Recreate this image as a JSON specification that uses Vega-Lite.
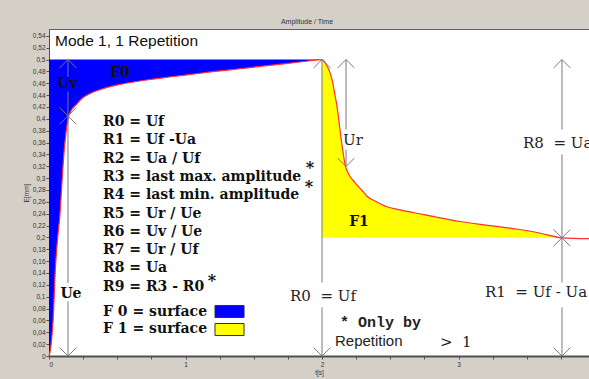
{
  "$schema": "https://vega.github.io/schema/vega-lite/v6.json",
  "autosize": "none",
  "width": 540,
  "height": 327,
  "padding": {"left": 49, "top": 29, "right": 0, "bottom": 23},
  "background": "#d4d0c8",
  "title": {"text": "Amplitude / Time", "fontSize": 7, "font": "Liberation Sans", "fontWeight": "normal", "color": "#333333", "anchor": "middle", "dx": -12, "offset": 4},
  "config": {
    "view": {"fill": "white", "stroke": "#606060", "strokeWidth": 1},
    "axis": {"grid": false, "domainColor": "#505050", "tickColor": "#505050", "labelColor": "#333333", "labelFont": "Liberation Sans", "labelFontSize": 6.5, "titleFont": "Liberation Sans", "titleFontSize": 6.5, "titleFontWeight": "normal", "titleColor": "#333333", "tickSize": 3, "labelOverlap": false}
  },
  "datasets": {
    "curve": [
      {"seg": "F0", "t": 0, "v": 0},
      {"seg": "F0", "t": 0.01, "v": 0.01},
      {"seg": "F0", "t": 0.02, "v": 0.03},
      {"seg": "F0", "t": 0.03, "v": 0.06},
      {"seg": "F0", "t": 0.038, "v": 0.1},
      {"seg": "F0", "t": 0.045, "v": 0.14},
      {"seg": "F0", "t": 0.055, "v": 0.175},
      {"seg": "F0", "t": 0.068, "v": 0.21},
      {"seg": "F0", "t": 0.08, "v": 0.237},
      {"seg": "F0", "t": 0.093, "v": 0.285},
      {"seg": "F0", "t": 0.11, "v": 0.343},
      {"seg": "F0", "t": 0.125, "v": 0.377},
      {"seg": "F0", "t": 0.14, "v": 0.4},
      {"seg": "F0", "t": 0.16, "v": 0.413},
      {"seg": "F0", "t": 0.2, "v": 0.424},
      {"seg": "F0", "t": 0.25, "v": 0.436},
      {"seg": "F0", "t": 0.3, "v": 0.4425},
      {"seg": "F0", "t": 0.34, "v": 0.4465},
      {"seg": "F0", "t": 0.42, "v": 0.4525},
      {"seg": "F0", "t": 0.52, "v": 0.458},
      {"seg": "F0", "t": 0.63, "v": 0.4625},
      {"seg": "F0", "t": 0.74, "v": 0.4663},
      {"seg": "F0", "t": 0.88, "v": 0.4705},
      {"seg": "F0", "t": 1.03, "v": 0.4747},
      {"seg": "F0", "t": 1.2, "v": 0.4795},
      {"seg": "F0", "t": 1.4, "v": 0.4845},
      {"seg": "F0", "t": 1.55, "v": 0.4885},
      {"seg": "F0", "t": 1.75, "v": 0.4935},
      {"seg": "F0", "t": 1.9, "v": 0.4975},
      {"seg": "F0", "t": 2.0, "v": 0.5},
      {"seg": "F1", "t": 2.0, "v": 0.5},
      {"seg": "F1", "t": 2.015, "v": 0.497},
      {"seg": "F1", "t": 2.035, "v": 0.49},
      {"seg": "F1", "t": 2.055, "v": 0.48},
      {"seg": "F1", "t": 2.075, "v": 0.465},
      {"seg": "F1", "t": 2.095, "v": 0.44},
      {"seg": "F1", "t": 2.11, "v": 0.421},
      {"seg": "F1", "t": 2.13, "v": 0.385},
      {"seg": "F1", "t": 2.15, "v": 0.35},
      {"seg": "F1", "t": 2.17, "v": 0.322},
      {"seg": "F1", "t": 2.2, "v": 0.305},
      {"seg": "F1", "t": 2.24, "v": 0.293},
      {"seg": "F1", "t": 2.29, "v": 0.28},
      {"seg": "F1", "t": 2.33, "v": 0.2695},
      {"seg": "F1", "t": 2.4, "v": 0.26},
      {"seg": "F1", "t": 2.47, "v": 0.2521},
      {"seg": "F1", "t": 2.57, "v": 0.2465},
      {"seg": "F1", "t": 2.67, "v": 0.242},
      {"seg": "F1", "t": 2.84, "v": 0.234},
      {"seg": "F1", "t": 3.01, "v": 0.2268},
      {"seg": "F1", "t": 3.23, "v": 0.22},
      {"seg": "F1", "t": 3.45, "v": 0.2133},
      {"seg": "F1", "t": 3.6, "v": 0.207},
      {"seg": "F1", "t": 3.758, "v": 0.1993},
      {"seg": "tail", "t": 3.956, "v": 0.198}
    ],
    "rules": [
      {"t": 0.139, "v1": 0.5, "v2": 0.469},
      {"t": 0.139, "v1": 0.446, "v2": 0.405},
      {"t": 0.139, "v1": 0.405, "v2": 0.123},
      {"t": 0.139, "v1": 0.092, "v2": 0},
      {"t": 2.0, "v1": 0.5, "v2": 0.124},
      {"t": 2.0, "v1": 0.082, "v2": 0},
      {"t": 2.176, "v1": 0.5, "v2": 0.382},
      {"t": 2.176, "v1": 0.348, "v2": 0.3196},
      {"t": 3.758, "v1": 0.5, "v2": 0.382},
      {"t": 3.758, "v1": 0.34, "v2": 0.1993},
      {"t": 3.758, "v1": 0.1993, "v2": 0.124},
      {"t": 3.758, "v1": 0.082, "v2": 0}
    ],
    "arrows": [
      {"t": 0.139, "v": 0.5, "dir": "up"},
      {"t": 2.0, "v": 0.5, "dir": "up"},
      {"t": 2.176, "v": 0.5, "dir": "up"},
      {"t": 3.758, "v": 0.5, "dir": "up"},
      {"t": 0.139, "v": 0.405, "dir": "up"},
      {"t": 3.758, "v": 0.1993, "dir": "up"},
      {"t": 0.139, "v": 0.405, "dir": "down"},
      {"t": 0.139, "v": 0, "dir": "down"},
      {"t": 2.0, "v": 0, "dir": "down"},
      {"t": 2.176, "v": 0.3196, "dir": "down"},
      {"t": 3.758, "v": 0.1993, "dir": "down"},
      {"t": 3.758, "v": 0, "dir": "down"}
    ],
    "swatches": [
      {"seg": "F0", "t0": 1.216, "t1": 1.429, "v0": 0.0649, "v1": 0.0852},
      {"seg": "F1", "t0": 1.216, "t1": 1.429, "v0": 0.0346, "v1": 0.0548}
    ],
    "list": [
      {"label": "R0 = Uf", "t": 0.396, "v": 0.3946},
      {"label": "R1 = Uf -Ua", "t": 0.396, "v": 0.3637},
      {"label": "R2 = Ua / Uf", "t": 0.396, "v": 0.3329},
      {"label": "R3 = last max. amplitude", "t": 0.396, "v": 0.302},
      {"label": "R4 = last min. amplitude", "t": 0.396, "v": 0.2712},
      {"label": "R5 = Ur / Ue", "t": 0.396, "v": 0.2403},
      {"label": "R6 = Uv / Ue", "t": 0.396, "v": 0.2094},
      {"label": "R7 = Ur / Uf", "t": 0.396, "v": 0.1786},
      {"label": "R8 = Ua", "t": 0.396, "v": 0.1477},
      {"label": "R9 = R3 - R0", "t": 0.396, "v": 0.1169},
      {"label": "F 0 = surface", "t": 0.396, "v": 0.075},
      {"label": "F 1 = surface", "t": 0.396, "v": 0.0447}
    ],
    "tags": [
      {"label": "F0", "t": 0.52, "v": 0.478},
      {"label": "F1", "t": 2.271, "v": 0.2268},
      {"label": "Uv", "t": 0.1355, "v": 0.4579},
      {"label": "Ue", "t": 0.161, "v": 0.104}
    ],
    "stars": [
      {"label": "*", "t": 1.912, "v": 0.3179},
      {"label": "*", "t": 1.905, "v": 0.2858},
      {"label": "*", "t": 1.194, "v": 0.1273}
    ],
    "dims": [
      {"label": "Ur", "t": 2.154, "v": 0.365},
      {"label": "R8\u00a0\u00a0=\u00a0Ua", "t": 3.473, "v": 0.3592},
      {"label": "R1\u00a0\u00a0=\u00a0Uf\u00a0-\u00a0Ua", "t": 3.194, "v": 0.1071},
      {"label": "R0\u00a0\u00a0=\u00a0Uf", "t": 1.766, "v": 0.102},
      {"label": ">\u00a0\u00a01", "t": 2.864, "v": 0.0235}
    ]
  },
  "encoding": {
    "x": {"field": "t", "type": "quantitative", "scale": {"domain": [0, 3.956], "nice": false, "zero": false},
      "axis": {"title": "t[s]", "values": [0, 0.25, 0.5, 0.75, 1, 1.25, 1.5, 1.75, 2, 2.25, 2.5, 2.75, 3, 3.25, 3.5, 3.75], "labelExpr": "datum.value % 1 === 0 ? format(datum.value, 'd') : ''", "labelPadding": 2, "titlePadding": 2, "domainWidth": 2}},
    "y": {"field": "v", "type": "quantitative", "scale": {"domain": [0, 0.5515], "nice": false, "zero": false},
      "axis": {"title": "E[mm]", "values": [0, 0.02, 0.04, 0.06, 0.08, 0.1, 0.12, 0.14, 0.16, 0.18, 0.2, 0.22, 0.24, 0.26, 0.28, 0.3, 0.32, 0.34, 0.36, 0.38, 0.4, 0.42, 0.44, 0.46, 0.48, 0.5, 0.52, 0.54], "labelExpr": "replace(format(datum.value, '.2~f'), '.', ',')", "labelPadding": 1, "titlePadding": 3}}
  },
  "layer": [
    {
      "mark": {"type": "rect", "fill": "#c0c0c0", "stroke": "#707070", "strokeWidth": 1},
      "encoding": {"x": {"datum": 0}, "x2": {"datum": 3.956}, "y": {"datum": 0.5}, "y2": {"datum": 0.5515}}
    },
    {
      "data": {"name": "curve"},
      "transform": [{"filter": "datum.seg === 'F0'"}],
      "mark": {"type": "area", "interpolate": "monotone"},
      "encoding": {"y2": {"datum": 0.5}, "color": {"field": "seg", "type": "nominal", "scale": {"domain": ["F0", "F1"], "range": ["#0000ff", "#ffff00"]}, "legend": null}}
    },
    {
      "data": {"name": "curve"},
      "transform": [{"filter": "datum.seg === 'F1'"}],
      "mark": {"type": "area", "interpolate": "monotone"},
      "encoding": {"y2": {"datum": 0.1993}, "color": {"field": "seg", "type": "nominal", "scale": {"domain": ["F0", "F1"], "range": ["#0000ff", "#ffff00"]}, "legend": null}}
    },
    {
      "mark": {"type": "rule", "color": "#707000", "strokeWidth": 1.2},
      "encoding": {"x": {"datum": 2.0}, "x2": {"datum": 3.758}, "y": {"datum": 0.1993}}
    },
    {
      "mark": {"type": "rule", "color": "#606060", "strokeWidth": 1},
      "encoding": {"y": {"datum": 0.5}}
    },
    {
      "data": {"name": "curve"},
      "mark": {"type": "line", "interpolate": "monotone", "color": "#ff3030", "strokeWidth": 1.2},
      "encoding": {}
    },
    {
      "data": {"name": "rules"},
      "mark": {"type": "rule", "color": "#7a7a7a", "strokeWidth": 1},
      "encoding": {"y": {"field": "v1", "type": "quantitative"}, "y2": {"field": "v2"}}
    },
    {
      "data": {"name": "arrows"},
      "mark": {"type": "point", "filled": false, "stroke": "#7a7a7a", "strokeWidth": 1, "size": 280, "opacity": 1},
      "encoding": {"shape": {"field": "dir", "type": "nominal", "scale": {"domain": ["up", "down"], "range": ["M-1,1L0,0L1,1", "M-1,-1L0,0L1,-1"]}, "legend": null}}
    },
    {
      "data": {"name": "swatches"},
      "mark": {"type": "rect", "stroke": "#333333", "strokeWidth": 1},
      "encoding": {"x": {"field": "t0", "type": "quantitative"}, "x2": {"field": "t1"}, "y": {"field": "v0", "type": "quantitative"}, "y2": {"field": "v1"},
        "color": {"field": "seg", "type": "nominal", "scale": {"domain": ["F0", "F1"], "range": ["#0000ff", "#ffff00"]}, "legend": null}}
    },
    {
      "data": {"name": "list"},
      "mark": {"type": "text", "font": "DejaVu Serif", "fontWeight": "bold", "fontSize": 14, "align": "left", "baseline": "middle", "color": "#111111"},
      "encoding": {"text": {"field": "label"}}
    },
    {
      "data": {"name": "tags"},
      "mark": {"type": "text", "font": "DejaVu Serif", "fontWeight": "bold", "fontSize": 14, "align": "center", "baseline": "middle", "color": "#111111"},
      "encoding": {"text": {"field": "label"}}
    },
    {
      "data": {"name": "stars"},
      "mark": {"type": "text", "font": "DejaVu Serif", "fontWeight": "bold", "fontSize": 16, "align": "center", "baseline": "middle", "color": "#111111"},
      "encoding": {"text": {"field": "label"}}
    },
    {
      "data": {"name": "dims"},
      "mark": {"type": "text", "font": "DejaVu Serif", "fontSize": 15, "align": "left", "baseline": "middle", "color": "#222222"},
      "encoding": {"text": {"field": "label"}}
    },
    {
      "data": {"values": [{"label": "* Only by", "t": 2.132, "v": 0.0565}]},
      "mark": {"type": "text", "font": "Liberation Mono", "fontWeight": "bold", "fontSize": 15, "align": "left", "baseline": "middle", "color": "#222222"},
      "encoding": {"text": {"field": "label"}}
    },
    {
      "data": {"values": [{"label": "Repetition", "t": 2.095, "v": 0.0255}]},
      "mark": {"type": "text", "font": "Liberation Sans", "fontSize": 15, "align": "left", "baseline": "middle", "color": "#222222"},
      "encoding": {"text": {"field": "label"}}
    },
    {
      "data": {"values": [{"label": "Mode 1, 1 Repetition", "t": 0.044, "v": 0.5312}]},
      "mark": {"type": "text", "font": "Liberation Sans", "fontSize": 15.5, "align": "left", "baseline": "middle", "color": "#111111"},
      "encoding": {"text": {"field": "label"}}
    }
  ]
}
